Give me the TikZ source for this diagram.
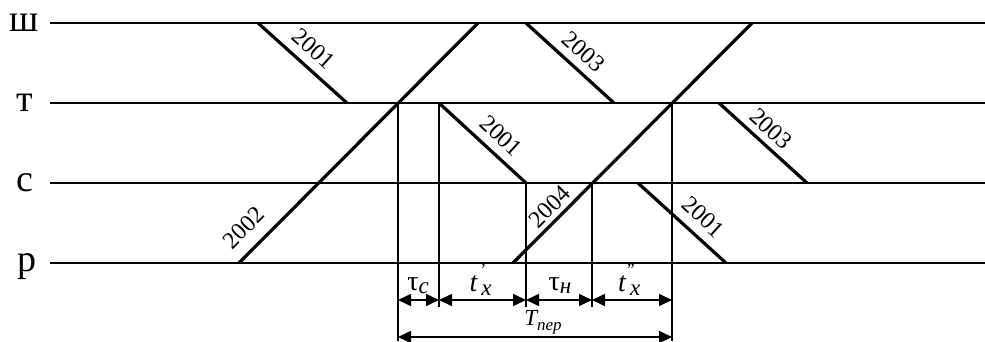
\documentclass[tikz,border=0pt]{standalone}
\usepackage{fontspec}
\setmainfont{Liberation Serif}
\usetikzlibrary{arrows.meta}
\begin{document}
\begin{tikzpicture}[x=1pt,y=-1pt,
  row/.style={line width=1.6pt},
  train/.style={line width=3.2pt},
  vline/.style={line width=2pt},
  dimarrow/.style={line width=1.7pt,{Triangle[length=13pt,width=12pt]}-{Triangle[length=13pt,width=12pt]}},
  lbl/.style={font=\fontsize{38}{38}\selectfont,inner sep=0pt,anchor=base},
  num/.style={font=\fontsize{24}{24}\selectfont,inner sep=0pt,sloped},
  dl/.style={font=\fontsize{28}{28}\selectfont,inner sep=0pt,anchor=base}]
\useasboundingbox (0,0) rectangle (985,341);
% row labels
\node[lbl] (lsh) at (24,31.5) {ш};
\node[lbl] (lt) at (25,111.5) {т};
\node[lbl] (lc) at (25,191.5) {с};
\node[lbl] (lr) at (27,271.5) {р};
% rows
\coordinate (shL) at (50,23);  \coordinate (shR) at (985,23);
\coordinate (tL) at (50,103);  \coordinate (tR) at (985,103);
\coordinate (cL) at (50,183);  \coordinate (cR) at (985,183);
\coordinate (rL) at (50,263);  \coordinate (rR) at (985,263);
\draw[row] (shL) -- (shR);
\draw[row] (tL) -- (tR);
\draw[row] (cL) -- (cR);
\draw[row] (rL) -- (rR);
% trains
\coordinate (a1s) at (258,23);  \coordinate (a1e) at (347,103);
\coordinate (a2s) at (239,263); \coordinate (a2e) at (478,23);
\coordinate (a3s) at (439,103); \coordinate (a3e) at (526,183);
\coordinate (a4s) at (513,263); \coordinate (a4e) at (752,23);
\coordinate (a5s) at (526,23);  \coordinate (a5e) at (614,103);
\coordinate (a6s) at (719,103); \coordinate (a6e) at (807,183);
\coordinate (a7s) at (638,183); \coordinate (a7e) at (726,263);
\draw[train] (a1s) -- node[num,pos=.49,above=8.8pt] (n1) {2001} (a1e);
\draw[train] (a2s) -- node[num,pos=.084,above=12pt] (n2) {2002} (a2e);
\draw[train] (a3s) -- node[num,pos=.575,above=8.3pt] (n3) {2001} (a3e);
\draw[train] (a4s) -- node[num,pos=.194,above=4pt] (n4) {2004} (a4e);
\draw[train] (a5s) -- node[num,pos=.52,above=8.2pt] (n5) {2003} (a5e);
\draw[train] (a6s) -- node[num,pos=.47,above=6.3pt] (n6) {2003} (a6e);
\draw[train] (a7s) -- node[num,pos=.60,above=9pt] (n7) {2001} (a7e);
% verticals
\coordinate (v1t) at (398,103); \coordinate (v1b) at (398,341);
\coordinate (v2t) at (439,103); \coordinate (v2b) at (439,307);
\coordinate (v3t) at (526,183); \coordinate (v3b) at (526,307);
\coordinate (v4t) at (592,183); \coordinate (v4b) at (592,307);
\coordinate (v5t) at (672,103); \coordinate (v5b) at (672,341);
\draw[vline] (v1t) -- (v1b);
\draw[vline] (v2t) -- (v2b);
\draw[vline] (v3t) -- (v3b);
\draw[vline] (v4t) -- (v4b);
\draw[vline] (v5t) -- (v5b);
% dimension points
\coordinate (d1) at (398,300); \coordinate (d2) at (439,300);
\coordinate (d3) at (526,300); \coordinate (d4) at (592,300);
\coordinate (d5) at (672,300);
\coordinate (e1) at (398,337); \coordinate (e2) at (672,337);
\draw[dimarrow] (d1) -- (d2);
\draw[dimarrow] (d2) -- (d3);
\draw[dimarrow] (d3) -- (d4);
\draw[dimarrow] (d4) -- (d5);
\draw[dimarrow] (e1) -- (e2);
% dimension labels
\node[dl] (tc) at (418,290) {τ\raisebox{-3pt}{\fontsize{23}{23}\selectfont\itshape с}};
\node[dl] (tx1) at (482,291) {\itshape t\kern4pt\raisebox{-4pt}{\fontsize{23}{23}\selectfont x}\kern-11pt\raisebox{16pt}{\fontsize{17}{17}\selectfont\upshape '}\kern8pt};
\node[dl] (tn) at (560,290) {τ\raisebox{-3pt}{\fontsize{23}{23}\selectfont\itshape н}};
\node[dl] (tx2) at (630,291) {\itshape t\kern4pt\raisebox{-4pt}{\fontsize{23}{23}\selectfont x}\kern-13pt\raisebox{16pt}{\fontsize{17}{17}\selectfont\upshape ''}\kern7pt};
\node[dl,font=\fontsize{23}{23}\selectfont] (tper) at (543,325) {\itshape T\raisebox{-5pt}{\fontsize{17}{17}\selectfont пер}};
\end{tikzpicture}
\end{document}
